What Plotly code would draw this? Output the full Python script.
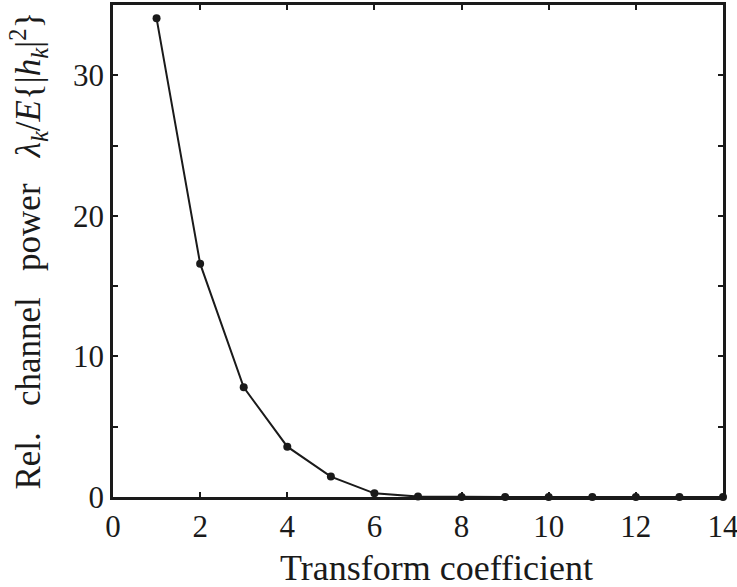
import plotly.graph_objects as go

coeff = [1, 2, 3, 4, 5, 6, 7, 8, 9, 10, 11, 12, 13, 14]
rel_power = [34.05, 16.6, 7.8, 3.58, 1.45, 0.26, 0.03, 0.0, 0.0, 0.0, 0.0, 0.0, 0.0, 0.0]

x_ticks = [0, 2, 4, 6, 8, 10, 12, 14]
y_tick_vals = [0, 5, 10, 15, 20, 25, 30, 35]
y_tick_text = ["0", "", "10", "", "20", "", "30", ""]

FONT = "Liberation Serif"
INK = "#1a1a1a"

fig = go.Figure()
fig.add_trace(go.Scatter(
    x=coeff, y=rel_power, mode="lines+markers",
    line=dict(color=INK, width=2),
    marker=dict(color=INK, size=8),
    cliponaxis=False, showlegend=False,
))

axis_common = dict(
    showgrid=False, zeroline=False, showline=True, linecolor=INK, linewidth=2.5,
    mirror="ticks", ticks="inside", ticklen=5, tickwidth=1.5, tickcolor=INK,
    tickfont=dict(family=FONT, size=31, color=INK),
    ticklabeloverflow="allow", automargin=False,
)

fig.update_xaxes(range=[0, 14], tickvals=x_ticks, **axis_common)
fig.update_yaxes(range=[0, 35], tickvals=y_tick_vals, ticktext=y_tick_text, **axis_common)

sp = "\u00a0\u00a0\u00a0"
ytitle = ("Rel." + sp + "channel" + sp + "power" + sp +
          "<i>λ<sub>k</sub></i>/<i>E</i>{|<i>h<sub>k</sub></i>|<sup>2</sup>}")

fig.add_annotation(text="Transform coefficient", xref="paper", yref="paper",
                   x=0.53, y=-0.10, xanchor="center", yanchor="top", showarrow=False,
                   font=dict(family=FONT, size=36, color=INK))
fig.add_annotation(text=ytitle, xref="paper", yref="paper",
                   x=-0.14, y=0.5, xanchor="center", yanchor="middle", showarrow=False,
                   textangle=-90, font=dict(family=FONT, size=35, color=INK))

fig.update_layout(
    width=737, height=587,
    margin=dict(l=113, r=14, t=5, b=90, autoexpand=False),
    paper_bgcolor="white", plot_bgcolor="white",
)

fig.write_html("out.html", config={"displayModeBar": False},
               post_script="document.body.style.margin='0';")
